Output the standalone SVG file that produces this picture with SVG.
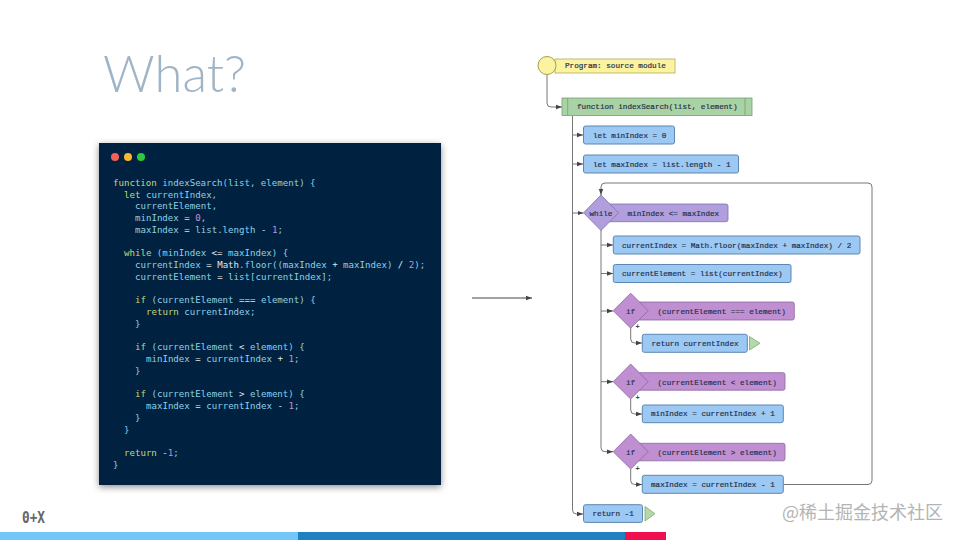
<svg xmlns="http://www.w3.org/2000/svg" width="960" height="540" viewBox="0 0 960 540">
<style>
.code{font-family:"DejaVu Sans Mono","Liberation Mono",monospace;font-size:9.1px;fill:#8fd0e6}
.k{fill:#c3d77a}.n{fill:#c58fd6}.w{fill:#dfe9ee}
.fl{font-family:"Liberation Mono","DejaVu Sans Mono",monospace;font-size:7.65px;fill:#26324c;stroke:#26324c;stroke-width:.2;dominant-baseline:central}
.st rect{fill:#9cc8f4;stroke:#5c87b0;stroke-width:1}
.pu>rect,.pu>path.d{fill:#c08fd2;stroke:#8a64a0;stroke-width:.8}
.wh>rect,.wh>path.d{fill:#b09fdc;stroke:#7f70ad;stroke-width:.8}
.end{fill:#b3d9a8;stroke:#7ea87a;stroke-width:.8}
.cn path{fill:none;stroke:#777;stroke-width:1}
.pl{font-family:"Liberation Mono",monospace;font-size:7px;font-weight:bold;fill:#444;text-anchor:middle;dominant-baseline:central}
</style>
<defs>
<filter id="sh" x="-10%" y="-10%" width="120%" height="120%"><feDropShadow dx="0" dy="2" stdDeviation="3.5" flood-color="#000" flood-opacity=".45"/></filter>
<marker id="ar" viewBox="0 0 6 6" refX="6" refY="3" markerWidth="6" markerHeight="6" orient="auto" markerUnits="userSpaceOnUse"><path d="M0 .8L6 3L0 5.2z" fill="#444"/></marker>
</defs>
<rect width="960" height="540" fill="#fff"/>
<text id="title" x="103" y="92" font-family="Lato,'Open Sans',sans-serif" font-weight="300" font-size="52" fill="#9fb4c6" textLength="143" lengthAdjust="spacingAndGlyphs">What?</text>

<g id="code-card">
<rect x="99" y="143" width="342" height="342" fill="#00213f" filter="url(#sh)"/>
<circle cx="115" cy="157" r="4" fill="#f2605a"/><circle cx="128" cy="157" r="4" fill="#f8b82e"/><circle cx="141" cy="157" r="4" fill="#2bc840"/>
<g class="code" transform="translate(0 -.6)">
<text x="113" y="186.5"><tspan class="k">function</tspan> indexSearch(list, element) {</text>
<text x="124" y="198.3"><tspan class="k">let</tspan> currentIndex,</text>
<text x="135" y="210">currentElement,</text>
<text x="135" y="221.8">minIndex <tspan class="w">=</tspan> <tspan class="n">0</tspan>,</text>
<text x="135" y="233.5">maxIndex <tspan class="w">=</tspan> list.length <tspan class="w">-</tspan> <tspan class="n">1</tspan>;</text>
<text x="124" y="257"><tspan class="k">while</tspan> (minIndex <tspan class="w">&lt;=</tspan> maxIndex) {</text>
<text x="135" y="268.8">currentIndex <tspan class="w">=</tspan> <tspan class="w">Math</tspan>.floor((maxIndex <tspan class="w">+</tspan> maxIndex) <tspan class="w">/</tspan> <tspan class="n">2</tspan>);</text>
<text x="135" y="280.5">currentElement <tspan class="w">=</tspan> list[currentIndex];</text>
<text x="135" y="304"><tspan class="k">if</tspan> (currentElement <tspan class="w">===</tspan> element) {</text>
<text x="146" y="315.8"><tspan class="k">return</tspan> currentIndex;</text>
<text x="135" y="327.5">}</text>
<text x="135" y="351"><tspan class="k">if</tspan> (currentElement <tspan class="w">&lt;</tspan> element) {</text>
<text x="146" y="362.8">minIndex <tspan class="w">=</tspan> currentIndex <tspan class="w">+</tspan> <tspan class="n">1</tspan>;</text>
<text x="135" y="374.5">}</text>
<text x="135" y="398"><tspan class="k">if</tspan> (currentElement <tspan class="w">&gt;</tspan> element) {</text>
<text x="146" y="409.8">maxIndex <tspan class="w">=</tspan> currentIndex <tspan class="w">-</tspan> <tspan class="n">1</tspan>;</text>
<text x="135" y="421.5">}</text>
<text x="124" y="433.3">}</text>
<text x="124" y="456.8"><tspan class="k">return</tspan> <tspan class="w">-</tspan><tspan class="n">1</tspan>;</text>
<text x="113" y="468.5">}</text>
</g>
</g>

<g id="connectors" class="cn">
<path d="M472 298H532" style="stroke:#444" marker-end="url(#ar)"/>
<path d="M547 75V103Q547 107 551 107H562" marker-end="url(#ar)"/>
<path d="M572.500 116V510Q572.500 514 576.500 514H583" marker-end="url(#ar)"/>
<path d="M572.500 135H583" marker-end="url(#ar)"/>
<path d="M572.500 164H583" marker-end="url(#ar)"/>
<path d="M572.500 213H583.500" marker-end="url(#ar)"/>
<path d="M783.500 484.500H868Q872 484.500 872 480.500V187Q872 183 868 183H605Q601 183 601 187V195" marker-end="url(#ar)"/>
<path d="M601 230V447.700Q601 451.700 605 451.700H613" marker-end="url(#ar)"/>
<path d="M601 245H613" marker-end="url(#ar)"/>
<path d="M601 273.500H613" marker-end="url(#ar)"/>
<path d="M601 311H613" marker-end="url(#ar)"/>
<path d="M601 381.700H613" marker-end="url(#ar)"/>
<path d="M630.700 328V339Q630.700 343 634.700 343H642" marker-end="url(#ar)"/>
<path d="M630.700 399V410Q630.700 414 634.700 414H642" marker-end="url(#ar)"/>
<path d="M630.700 469V480.500Q630.700 484.500 634.700 484.500H642" marker-end="url(#ar)"/>
</g>

<g id="n-program"><rect x="555" y="59" width="120" height="14" fill="#fbf3a0" stroke="#b3a95f" stroke-width=".8"/><circle cx="547" cy="65.500" r="9" fill="#fbf3a0" stroke="#a69c55"/><text class="fl" x="565" y="66">Program: source module</text></g>
<g id="n-function"><rect x="562" y="98" width="190" height="17.500" fill="#a9d3a5" stroke="#73a072" stroke-width=".8"/><path d="M567.700 98V115.500M745 98V115.500" stroke="#73a072" stroke-width=".8"/><text class="fl" x="577" y="107">function indexSearch(list, element)</text></g>
<g id="n-min" class="st"><rect x="583.500" y="126" width="91" height="18" rx="2"/><text class="fl" x="593" y="135.500">let minIndex = 0</text></g>
<g id="n-max" class="st"><rect x="583.500" y="155" width="155" height="18" rx="2"/><text class="fl" x="593" y="164.500">let maxIndex = list.length - 1</text></g>
<g id="n-while" class="wh"><rect x="601" y="204" width="127" height="17.700" rx="2"/><path class="d" d="M601 195L618.500 212.800L601 230.500L583.500 212.800z"/><text class="fl" x="589.500" y="213.500">while</text><text class="fl" x="627.500" y="213.500">minIndex &lt;= maxIndex</text></g>
<g id="n-curIdx" class="st"><rect x="613.300" y="236" width="246.700" height="18" rx="2"/><text class="fl" x="622" y="245.500">currentIndex = Math.floor(maxIndex + maxIndex) / 2</text></g>
<g id="n-curEl" class="st"><rect x="613.300" y="264.500" width="177.700" height="18" rx="2"/><text class="fl" x="622" y="274">currentElement = list(currentIndex)</text></g>
<g id="n-if1" class="pu"><rect x="631" y="302" width="163.300" height="18" rx="2"/><path class="d" d="M630.700 293.200L648.200 310.700L630.700 328.200L613.200 310.700z"/><text class="fl" x="626" y="311.500">if</text><text class="fl" x="657.500" y="311.500">(currentElement === element)</text></g>
<g id="n-ret1" class="st"><rect x="642.300" y="334.300" width="105" height="18" rx="2"/><text class="fl" x="651.500" y="343.800">return currentIndex</text></g>
<path id="n-end1" class="end" d="M749.500 336.500L760 343.300L749.500 350z"/>
<g id="n-if2" class="pu"><rect x="631" y="372.700" width="154" height="17.500" rx="2"/><path class="d" d="M630.700 364L648.200 381.700L630.700 399L613.200 381.700z"/><text class="fl" x="626" y="382.500">if</text><text class="fl" x="657.500" y="382.500">(currentElement &lt; element)</text></g>
<g id="n-minset" class="st"><rect x="642.300" y="405" width="141" height="17.700" rx="2"/><text class="fl" x="651" y="414.300">minIndex = currentIndex + 1</text></g>
<g id="n-if3" class="pu"><rect x="631" y="443.300" width="154" height="17.500" rx="2"/><path class="d" d="M630.700 434L648.200 451.700L630.700 469L613.200 451.700z"/><text class="fl" x="626" y="452.500">if</text><text class="fl" x="657.500" y="452.500">(currentElement &gt; element)</text></g>
<g id="n-maxset" class="st"><rect x="642.300" y="475.300" width="141" height="18" rx="2"/><text class="fl" x="651" y="484.800">maxIndex = currentIndex - 1</text></g>
<g id="n-ret2" class="st"><rect x="583.500" y="504.700" width="59" height="17.700" rx="2"/><text class="fl" x="592.500" y="514">return -1</text></g>
<path id="n-end2" class="end" d="M645 506.500L655 513.700L645 521z"/>
<g id="plus"><text class="pl" x="637.700" y="327">+</text><text class="pl" x="637.700" y="398">+</text><text class="pl" x="637.700" y="468.500">+</text></g>

<g id="footer">
<rect y="532" width="298" height="8" fill="#72c6fa"/><rect x="298" y="532" width="327" height="8" fill="#1f81c0"/><rect x="625" y="532" width="41" height="8" fill="#f0104f"/>
<text x="22" y="523" font-family="'DejaVu Sans Mono',monospace" font-weight="bold" font-size="15" fill="#666" textLength="23" lengthAdjust="spacingAndGlyphs">0+X</text>
</g>
<text id="watermark" x="782" y="519" font-family="'Noto Sans CJK SC','Liberation Sans',sans-serif" font-size="18" fill="#b4b4b4" textLength="161" lengthAdjust="spacingAndGlyphs">@稀土掘金技术社区</text>
</svg>
